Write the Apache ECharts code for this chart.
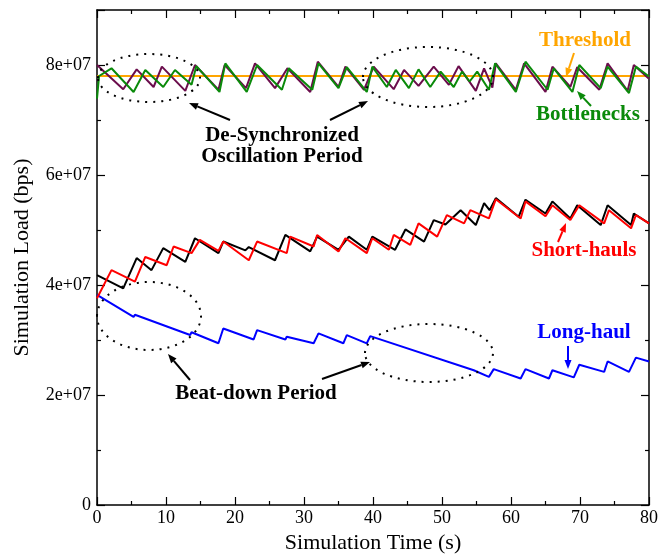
<!DOCTYPE html>
<html>
<head>
<meta charset="utf-8">
<script src="https://cdn.jsdelivr.net/npm/echarts@6/dist/echarts.min.js"></script>
<style>
  html, body { margin: 0; padding: 0; background: #fff; }
  #chart { width: 660px; height: 554px; }
</style>
</head>
<body>
<div id="chart"></div>
<script>
// time in seconds, load in Mbps (converted to bps below)
const threshT = [0, 80];
const threshV = [78, 78];

const purpleT = [0, 3.8, 5.75, 8.2, 9.4, 12.8, 14.2, 17.6, 18.5, 21.6, 22.9, 25.8, 27.6, 30.9, 32.0, 35.0, 36.0, 38.7, 40.1, 43.0, 44.5, 46.6, 48.8, 51.0, 52.4, 54.9, 56.1, 57.3, 57.8, 60.7, 61.9, 65.0, 66.0, 68.6, 69.6, 72.8, 74.0, 76.9, 77.8, 80];
const purpleV = [80.0, 75.6, 79.2, 76.0, 79.7, 75.3, 80.0, 75.5, 80.0, 75.8, 80.3, 75.8, 79.4, 75.1, 80.6, 76.0, 79.7, 75.5, 79.7, 75.6, 79.1, 76.2, 79.7, 76.4, 79.8, 75.3, 79.4, 75.9, 80.3, 75.5, 80.3, 75.1, 79.7, 76.0, 79.6, 75.5, 80.3, 75.3, 80.0, 77.5];

const greenT = [0, 0.3, 2.1, 5.3, 7.0, 9.6, 11.3, 13.7, 14.4, 17.75, 18.6, 21.7, 23.2, 26.8, 27.8, 31.2, 32.1, 35.0, 36.2, 39.1, 39.9, 42.0, 43.3, 45.2, 46.6, 48.3, 49.8, 51.7, 52.9, 54.0, 55.1, 56.8, 57.7, 60.7, 62.1, 65.3, 66.2, 68.9, 69.9, 73.0, 74.0, 77.1, 78.1, 80];
const greenV = [73.9, 78.0, 79.4, 75.1, 79.1, 76.0, 79.1, 76.4, 79.8, 75.1, 80.3, 75.1, 80.0, 75.5, 79.4, 75.5, 80.3, 75.8, 79.6, 75.1, 79.7, 76.0, 79.1, 75.8, 79.2, 76.0, 78.8, 76.0, 78.8, 77.0, 78.8, 75.5, 80.3, 75.1, 80.6, 75.5, 79.4, 75.1, 80.0, 75.8, 79.7, 74.9, 79.7, 77.9];

const blackT = [0, 3.8, 5.75, 7.9, 9.6, 12.8, 14.2, 17.6, 18.3, 21.5, 22.0, 25.8, 27.3, 30.9, 31.9, 35.0, 36.5, 39.1, 39.9, 43.2, 44.7, 47.4, 48.8, 50.5, 52.7, 54.9, 56.1, 56.9, 57.8, 61.1, 62.1, 65.0, 66.0, 68.6, 69.6, 73.0, 74.0, 77.4, 77.8, 80];
const blackV = [41.8, 39.4, 44.9, 42.7, 46.7, 44.2, 48.5, 45.8, 47.9, 46.3, 46.9, 44.5, 49.1, 46.1, 48.8, 46.4, 48.8, 46.4, 48.8, 46.4, 50.1, 47.9, 51.8, 51.0, 53.6, 50.9, 54.9, 53.6, 55.8, 52.4, 55.5, 53.0, 55.2, 52.1, 54.5, 50.9, 54.5, 50.9, 53.0, 51.2];

const redT = [0, 2.1, 5.5, 7.0, 10.1, 11.1, 13.7, 14.9, 17.6, 18.3, 22.0, 23.2, 27.5, 28.0, 31.4, 31.9, 35.0, 36.0, 39.1, 39.9, 42.3, 43.0, 45.4, 46.6, 49.3, 50.7, 53.2, 54.1, 56.8, 57.8, 61.4, 62.1, 65.0, 66.0, 68.6, 69.9, 73.5, 74.2, 77.4, 78.1, 80];
const redV = [37.6, 42.7, 40.6, 45.1, 43.6, 47.0, 45.8, 48.2, 46.2, 47.9, 44.5, 47.9, 45.8, 48.8, 47.0, 49.1, 46.1, 48.5, 45.8, 48.5, 46.4, 49.1, 47.3, 51.2, 48.8, 52.7, 51.2, 53.6, 52.1, 55.6, 52.1, 55.2, 52.5, 54.5, 51.8, 54.5, 51.2, 53.6, 50.3, 52.7, 51.2];

const blueT = [0, 5.3, 5.5, 13.5, 13.7, 17.6, 18.3, 22.7, 23.2, 27.3, 27.5, 31.4, 32.1, 35.7, 36.2, 39.1, 39.6, 54.6, 56.8, 57.5, 61.4, 62.1, 65.5, 66.0, 69.1, 69.9, 73.5, 74.0, 77.1, 78.1, 80];
const blueV = [38.2, 34.2, 34.6, 30.9, 31.4, 29.4, 32.1, 30.1, 31.8, 30.1, 30.6, 29.4, 31.2, 29.4, 30.9, 29.4, 30.7, 24.5, 23.3, 24.7, 23.0, 24.7, 23.0, 24.5, 23.2, 25.5, 24.2, 26.1, 24.2, 26.8, 26.1];

const xTicks = [0, 10, 20, 30, 40, 50, 60, 70, 80];
const yTickLabels = ['0', '2e+07', '4e+07', '6e+07', '8e+07'];

const FONT = 'Liberation Serif';

function pts(t, v) {
  return t.map((x, i) => [x, v[i] * 1e6]);
}

function line(name, t, v, color, z) {
  return {
    name: name, type: 'line', data: pts(t, v), symbol: 'none', z: z,
    lineStyle: { color: color, width: 2 }, silent: true
  };
}

// annotation arrow: line plus filled head
function arrow(x1, y1, x2, y2, color) {
  const a = Math.atan2(y2 - y1, x2 - x1);
  const L = 9, W = 3.5;
  const bx = x2 - L * Math.cos(a), by = y2 - L * Math.sin(a);
  const px = -Math.sin(a) * W, py = Math.cos(a) * W;
  return [
    { type: 'line', shape: { x1: x1, y1: y1, x2: bx, y2: by }, style: { stroke: color, lineWidth: 2 }, z: 100 },
    { type: 'polygon', shape: { points: [[x2, y2], [bx + px, by + py], [bx - px, by - py]] }, style: { fill: color }, z: 100 }
  ];
}

function ellipse(cx, cy, rx, ry) {
  return {
    type: 'ellipse', shape: { cx: cx, cy: cy, rx: rx, ry: ry }, z: 100,
    style: { fill: null, stroke: '#000', lineWidth: 2, lineDash: [2, 6] }
  };
}

function label(text, x, y, color) {
  return {
    type: 'text', x: x, y: y, z: 100,
    style: { text: text, fill: color, font: 'bold 21px "' + FONT + '"', align: 'center', verticalAlign: 'middle', lineHeight: 21 }
  };
}

const axisLine = { show: true, onZero: false, lineStyle: { color: '#000', width: 1.5 } };
const tick = { show: true, inside: true, length: 8, lineStyle: { color: '#000', width: 1.2 } };
const minor = { show: true, splitNumber: 2, length: 4, lineStyle: { color: '#000', width: 1.2 } };

const option = {
  animation: false,
  backgroundColor: '#fff',
  grid: { left: 97, right: 11, top: 10, bottom: 49, outerBoundsMode: 'none', containLabel: false },
  xAxis: [
    {
      type: 'value', min: 0, max: 80, interval: 10, position: 'bottom',
      name: 'Simulation Time (s)', nameLocation: 'middle', nameGap: 25,
      nameTextStyle: { fontFamily: FONT, fontSize: 22, color: '#000' },
      axisLine: axisLine, axisTick: tick, minorTick: minor, splitLine: { show: false },
      axisLabel: {
        fontFamily: FONT, fontSize: 18, color: '#000', margin: 4,
        formatter: v => xTicks.includes(v) ? String(v) : ''
      }
    },
    {
      type: 'value', min: 0, max: 80, interval: 10, position: 'top',
      axisLine: axisLine, axisTick: tick, minorTick: minor, splitLine: { show: false },
      axisLabel: { show: false }
    }
  ],
  yAxis: [
    {
      type: 'value', min: 0, max: 9e7, interval: 2e7, position: 'left',
      name: 'Simulation Load (bps)', nameLocation: 'middle', nameGap: 64,
      nameTextStyle: { fontFamily: FONT, fontSize: 22, color: '#000' },
      axisLine: axisLine, axisTick: tick, minorTick: minor, splitLine: { show: false },
      axisLabel: {
        fontFamily: FONT, fontSize: 18, color: '#000', margin: 6, showMaxLabel: false,
        formatter: v => yTickLabels[Math.round(v / 2e7)] || ''
      }
    },
    {
      type: 'value', min: 0, max: 9e7, interval: 2e7, position: 'right',
      axisLine: axisLine, axisTick: tick, minorTick: minor, splitLine: { show: false },
      axisLabel: { show: false }
    }
  ],
  series: [
    line('Threshold', threshT, threshV, '#ffa500', 2),
    line('Bottleneck A', purpleT, purpleV, '#6b0d4c', 3),
    line('Bottleneck B', greenT, greenV, '#0a8a0a', 4),
    line('Short-haul A', blackT, blackV, '#000000', 3),
    line('Short-haul B', redT, redV, '#ff0000', 4),
    line('Long-haul', blueT, blueV, '#0000ff', 3)
  ],
  graphic: [
    ellipse(149, 78, 51, 24),
    ellipse(428, 77, 65, 30),
    ellipse(149, 316, 52, 34),
    ellipse(429, 353, 64, 29),
    ...arrow(230, 120, 189, 103, '#000'),
    ...arrow(330, 120, 368, 101, '#000'),
    ...arrow(190, 380, 168, 354, '#000'),
    ...arrow(322, 379, 370, 362, '#000'),
    ...arrow(574, 53, 566, 77, '#ffa500'),
    ...arrow(591, 106, 577, 91, '#0a8a0a'),
    ...arrow(558, 242, 566, 223, '#ff0000'),
    ...arrow(568, 346, 568, 369, '#0000ff'),
    label('De-Synchronized\nOscillation Period', 282, 146, '#000'),
    label('Beat-down Period', 256, 394, '#000'),
    label('Threshold', 585, 41, '#ffa500'),
    label('Bottlenecks', 588, 115, '#0a8a0a'),
    label('Short-hauls', 584, 251, '#ff0000'),
    label('Long-haul', 584, 333, '#0000ff')
  ]
};

const myChart = echarts.init(document.getElementById('chart'));
myChart.setOption(option);
</script>
</body>
</html>
